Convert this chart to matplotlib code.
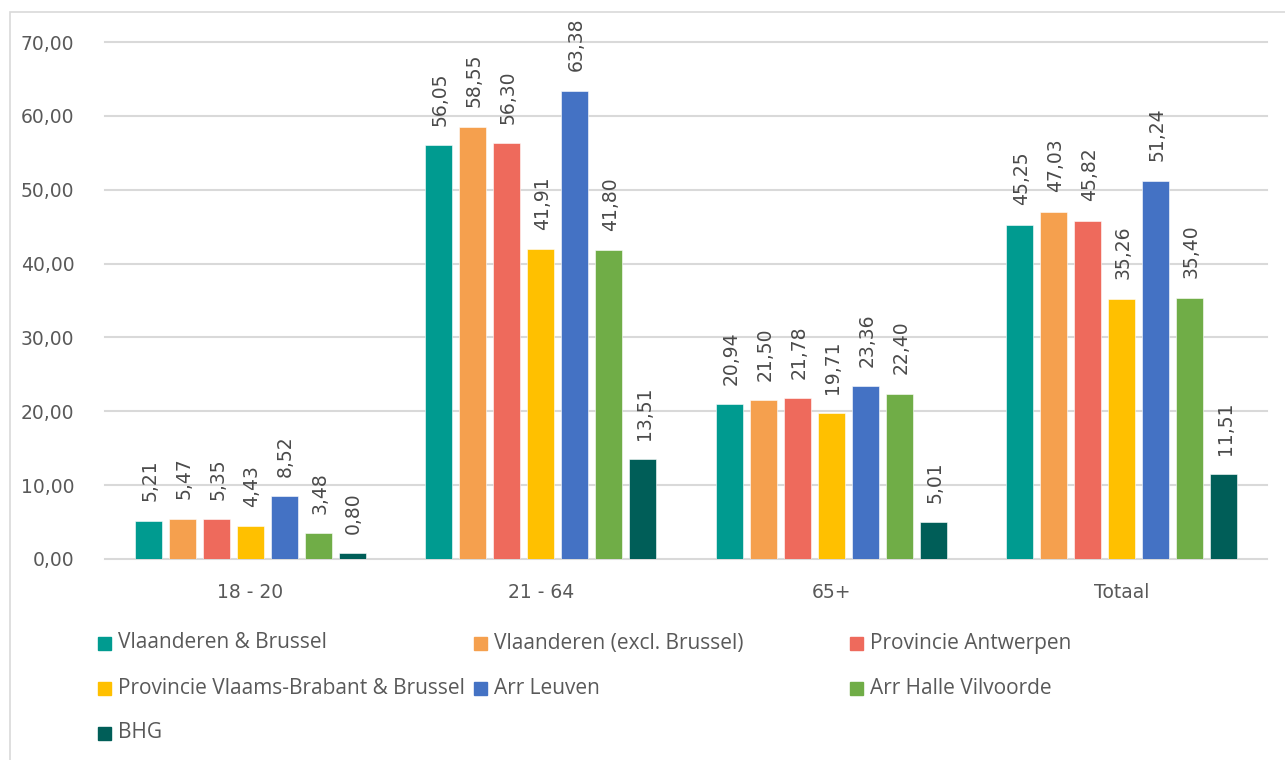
import numpy as np
import matplotlib
matplotlib.use("Agg")
import matplotlib.pyplot as plt
from matplotlib.patches import Rectangle

plt.rcParams['font.family'] = ['DejaVu Sans']

# gegevens
categories = ['18 - 20', '21 - 64', '65+', 'Totaal']
series_names = ['Vlaanderen & Brussel', 'Vlaanderen (excl. Brussel)', 'Provincie Antwerpen',
                'Provincie Vlaams-Brabant & Brussel', 'Arr Leuven', 'Arr Halle Vilvoorde', 'BHG']
vl_brussel = [5.21, 56.05, 20.94, 45.25]
vlaanderen = [5.47, 58.55, 21.50, 47.03]
antwerpen = [5.35, 56.30, 21.78, 45.82]
vl_brabant = [4.43, 41.91, 19.71, 35.26]
leuven = [8.52, 63.38, 23.36, 51.24]
halle_vilvoorde = [3.48, 41.80, 22.40, 35.40]
bhg = [0.80, 13.51, 5.01, 11.51]
yticks = [0, 10, 20, 30, 40, 50, 60, 70]

series = [vl_brussel, vlaanderen, antwerpen, vl_brabant, leuven, halle_vilvoorde, bhg]
colors = ['#009B90', '#F5A04E', '#EE6A5C', '#FFC000', '#4472C4', '#70AD47', '#005E58']
text_color = '#595959'

fig = plt.figure(figsize=(12.85, 7.6), dpi=100)
ax = fig.add_axes([105 / 1285, 1 - 559 / 760, 1162 / 1285, 517 / 760])

# kaderrand
fig.patches.append(Rectangle((10 / 1285, -0.01), 1.02, 1 - 12 / 760 + 0.01,
                             transform=fig.transFigure, fill=False,
                             edgecolor='#D9D9D9', linewidth=1.2))

x = np.arange(len(categories))
width = 27 / 290.5
pitch = 34 / 290.5
for i, (vals, col) in enumerate(zip(series, colors)):
    pos = x + (i - 3) * pitch
    bars = ax.bar(pos, vals, width, color=col, edgecolor='white', linewidth=0.4, zorder=3)
    for b, v in zip(bars, vals):
        ax.annotate(f"{v:.2f}".replace('.', ','), (b.get_x() + b.get_width() / 2, v),
                    xytext=(1, 14), textcoords='offset points', rotation=90,
                    ha='center', va='bottom', fontsize=13.5, color='#4a4a4a')

ax.set_xlim(-0.5, len(categories) - 0.5)
ax.set_ylim(0, 70)
ax.set_yticks(yticks)
ax.set_yticklabels([f"{t:.2f}".replace('.', ',') for t in yticks])
ax.set_xticks(x)
ax.set_xticklabels(categories)
ax.tick_params(axis='both', length=0, labelsize=13.5, labelcolor=text_color)
ax.tick_params(axis='y', pad=22)
ax.tick_params(axis='x', pad=17)
for t in yticks:
    ax.axhline(t, color='#D9D9D9', linewidth=1.5, zorder=1, clip_on=False)
for s in ax.spines.values():
    s.set_visible(False)

# legende (3 kolommen, vaste breedte zoals in Excel)
for i, (name, col) in enumerate(zip(series_names, colors)):
    row, c = divmod(i, 3)
    lx = (98 + c * 376) / 1285
    ly = 1 - (643 + row * 45) / 760
    fig.patches.append(Rectangle((lx, ly - 6.5 / 760), 13 / 1285, 13 / 760,
                                 transform=fig.transFigure, color=col))
    fig.text(lx + 20 / 1285, ly, name, va='center', ha='left',
             fontsize=15, color=text_color, family=['Open Sans', 'DejaVu Sans'])

fig.savefig('out.png', dpi=100)
